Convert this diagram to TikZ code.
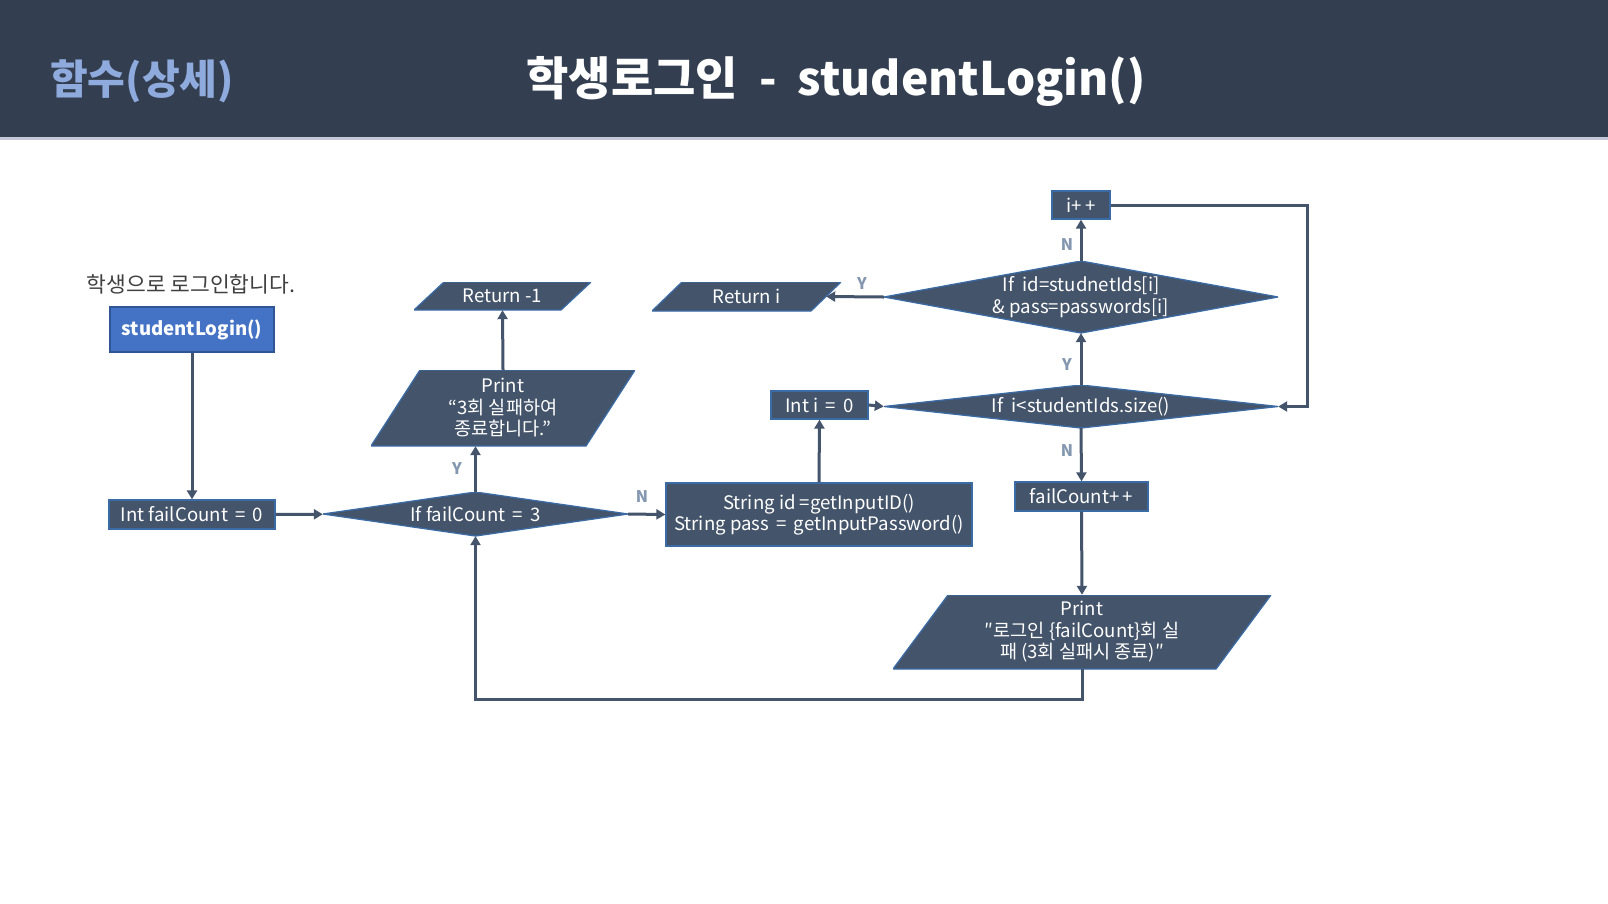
\documentclass[tikz,border=0pt]{standalone}
\usepackage{fontspec}
\setmainfont{Noto Sans CJK KR}
\usetikzlibrary{arrows.meta}
\definecolor{hdr}{HTML}{333F50}
\definecolor{hdrline}{HTML}{C5C8D8}
\definecolor{subc}{HTML}{8FAADC}
\definecolor{nfill}{HTML}{44546A}
\definecolor{bordc}{HTML}{3B6BA5}
\definecolor{startc}{HTML}{4472C4}
\definecolor{startb}{HTML}{2F5597}
\definecolor{lblc}{HTML}{8497B0}
\definecolor{introc}{HTML}{404040}
\newcommand{\nf}{\fontsize{18.6pt}{21.5pt}\selectfont}
\tikzset{
  box/.style={draw=bordc, line width=1.3pt, fill=nfill, text=white, inner sep=0pt, font=\nf, align=center},
  startbox/.style={draw=startb, line width=1.3pt, fill=startc, text=white, inner sep=0pt, font=\nf\bfseries},
  dia/.style={inner sep=0pt, text=white, font=\nf, align=center,
    path picture={\filldraw[fill=nfill, draw=bordc, line width=1.3pt]
      (path picture bounding box.north) -- (path picture bounding box.east) --
      (path picture bounding box.south) -- (path picture bounding box.west) -- cycle;}},
  para/.style={inner sep=0pt, text=white, font=\nf, align=center,
    path picture={\filldraw[fill=nfill, draw=bordc, line width=1.3pt]
      ([xshift=#1]path picture bounding box.north west) -- (path picture bounding box.north east) --
      ([xshift=-#1]path picture bounding box.south east) -- (path picture bounding box.south west) -- cycle;}},
  conn/.style={draw=nfill, line width=3pt, -{Triangle[length=9pt,width=10pt]}},
  lbl/.style={text=lblc, font=\fontsize{16pt}{18pt}\selectfont\bfseries, inner sep=0pt}
}
\begin{document}
\begin{tikzpicture}[x=1pt,y=-1pt]
\useasboundingbox (0,0) rectangle (1608,903);
\fill[white] (0,0) rectangle (1608,903);
% header
\fill[hdr] (0,0) rectangle (1608,137);
\fill[hdrline] (0,137) rectangle (1608,140);
\node[text=subc, font=\fontsize{41pt}{46pt}\selectfont\bfseries, inner sep=0pt] (sub) at (142,81) {함수(상세)};
\node[text=white, font=\fontsize{46pt}{52pt}\selectfont\bfseries, inner sep=0pt] (title) at (836,81) {학생로그인 \ - \ studentLogin()};

% intro
\node[text=introc, font=\fontsize{21.5pt}{24pt}\selectfont, inner sep=0pt] (intro) at (191,284) {학생으로 로그인합니다.};

% nodes
\node[startbox, minimum width=164pt, minimum height=45pt] (start) at (192,329.5) {studentLogin()};
\node[box, minimum width=166pt, minimum height=29pt] (fc0) at (192,514.5) {Int failCount \,=\, 0};
\node[dia, minimum width=305pt, minimum height=44pt] (d1) at (475.5,514) {If failCount \,=\, 3};
\node[para=49pt, minimum width=264pt, minimum height=76pt] (pr1) at (503,408) {Print\\“3회 실패하여\\종료합니다.”};
\node[para=30pt, minimum width=177pt, minimum height=28pt] (ret1) at (502.5,296) {Return -1};
\node[box, minimum width=306pt, minimum height=63pt] (str) at (819,514.5) {String id =getInputID()\\String pass \,=\, getInputPassword()};
\node[box, minimum width=97pt, minimum height=28pt] (i0) at (819.5,405) {Int i \,=\, 0};
\node[dia, minimum width=394pt, minimum height=43pt] (d2) at (1081,406.5) {If \ i<studentIds.size()};
\node[dia, minimum width=394pt, minimum height=72pt] (d3) at (1081,297) {If \ id=studnetIds[i]\\\& pass=passwords[i]};
\node[box, minimum width=58pt, minimum height=28pt] (ipp) at (1081,205) {i+\,+};
\node[para=30pt, minimum width=189pt, minimum height=29pt] (reti) at (746.5,296.5) {Return i};
\node[box, minimum width=133pt, minimum height=29pt] (fcpp) at (1081.5,496.5) {failCount+\,+};
\node[para=55pt, minimum width=378pt, minimum height=74pt] (pr2) at (1082,632) {Print\\″로그인 \{failCount\}회 실\\패 (3회 실패시 종료)″};

% connectors
\draw[conn] (start) -- (fc0);
\draw[conn] (fc0) -- (d1);
\draw[conn] (d1.north) -- (d1.north |- pr1.south);
\draw[conn] (pr1.north) -- (ret1.south);
\draw[conn] (d1.east) -- (str.west);
\draw[conn] (str.north) -- (i0.south);
\draw[conn] (i0.east) -- (d2.west);
\draw[conn] (d2.north) -- (d3.south);
\draw[conn] (d3.north) -- (ipp.south);
\draw[conn] (d3.west) -- ([xshift=-15pt]reti.east);
\draw[conn] (d2.south) -- (fcpp.north);
\draw[conn] (fcpp.south) -- (pr2.north);
\coordinate (loopR) at (1307,205);
\draw[conn] (ipp.east) -- (loopR) |- (d2.east);
\coordinate (loopB) at (1082,699);
\draw[conn] (pr2.south) -- (loopB) -| (d1.south);

% labels
\node[lbl] (lY1) at (457,469) {Y};
\node[lbl] (lN1) at (642,497) {N};
\node[lbl] (lY2) at (862,284) {Y};
\node[lbl] (lN2) at (1067,245) {N};
\node[lbl] (lY3) at (1067,365) {Y};
\node[lbl] (lN3) at (1067,451) {N};
\end{tikzpicture}
\end{document}
